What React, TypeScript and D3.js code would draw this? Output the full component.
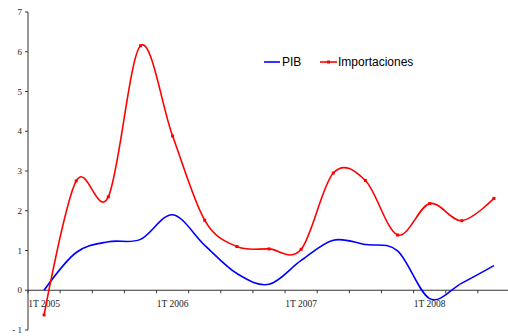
import React from "react";
import * as d3 from "d3";

const categories = [
  "1T 2005", "2T 2005", "3T 2005", "4T 2005",
  "1T 2006", "2T 2006", "3T 2006", "4T 2006",
  "1T 2007", "2T 2007", "3T 2007", "4T 2007",
  "1T 2008", "2T 2008", "3T 2008",
];
const pib = [0.0, 0.95, 1.22, 1.28, 1.9, 1.13, 0.42, 0.15, 0.75, 1.26, 1.15, 0.99, -0.21, 0.18, 0.62];
const importaciones = [-0.62, 2.75, 2.35, 6.15, 3.88, 1.76, 1.1, 1.04, 1.03, 2.95, 2.76, 1.39, 2.18, 1.75, 2.31];
const yTicks = [-1, 0, 1, 2, 3, 4, 5, 6, 7];
const labeledCats = ["1T 2005", "1T 2006", "1T 2007", "1T 2008"];

export default function App() {
  const W = 508, H = 336;
  const x0 = 28, x1 = 510;
  const x = d3.scaleBand().domain(categories).range([x0, x1]);
  const y = d3.scaleLinear().domain([-1, 7]).range([330, 12]);
  const cx = (c: string) => (x(c) as number) + x.bandwidth() / 2;
  const line = d3
    .line<number>()
    .x((_, i) => cx(categories[i]))
    .y((d) => y(d))
    .curve(d3.curveCatmullRom.alpha(0));
  const axisColor = "#333";
  return (
    <svg width={W} height={H} style={{ position: "absolute", left: 0, top: 0 }}>
      <rect width={W} height={H} fill="#fff" />
      {/* y axis */}
      <line x1={x0} x2={x0} y1={y(7)} y2={y(-1)} stroke={axisColor} strokeWidth={1} />
      {yTicks.map((t) => (
        <g key={t}>
          <line x1={x0 - 3} x2={x0} y1={y(t)} y2={y(t)} stroke={axisColor} />
          <text x={x0 - 6} y={y(t) + 3} textAnchor="end" fontFamily="Liberation Serif, Times New Roman, serif" fontSize={9} fill="#222">
            {t === -1 ? "- 1" : t}
          </text>
        </g>
      ))}
      {/* x axis */}
      <line x1={x0} x2={W} y1={y(0)} y2={y(0)} stroke={axisColor} strokeWidth={1} />
      {categories.map((c) => (
        <line key={c} x1={x(c) as number} x2={x(c) as number} y1={y(0)} y2={y(0) + 3} stroke={axisColor} />
      ))}
      {labeledCats.map((c) => (
        <text key={c} x={cx(c)} y={y(0) + 17} textAnchor="middle" fontFamily="Liberation Serif, Times New Roman, serif" fontSize={9.5} fill="#222">
          {c}
        </text>
      ))}
      {/* series */}
      <path d={line(pib) || ""} fill="none" stroke="#0000ff" strokeWidth={1.6} />
      <path d={line(importaciones) || ""} fill="none" stroke="#ff0000" strokeWidth={1.6} />
      {importaciones.map((v, i) => (
        <rect key={i} x={cx(categories[i]) - 1.5} y={y(v) - 1.5} width={3} height={3} fill="#ff0000" />
      ))}
      {/* legend */}
      <g fontFamily="Liberation Sans, Arial, sans-serif" fontSize={12} fill="#000">
        <line x1={264} x2={280} y1={62} y2={62} stroke="#0000ff" strokeWidth={1.6} />
        <text x={282} y={66}>PIB</text>
        <line x1={320} x2={337} y1={62} y2={62} stroke="#ff0000" strokeWidth={1.6} />
        <rect x={327} y={60.5} width={3} height={3} fill="#ff0000" />
        <text x={338} y={66}>Importaciones</text>
      </g>
    </svg>
  );
}
